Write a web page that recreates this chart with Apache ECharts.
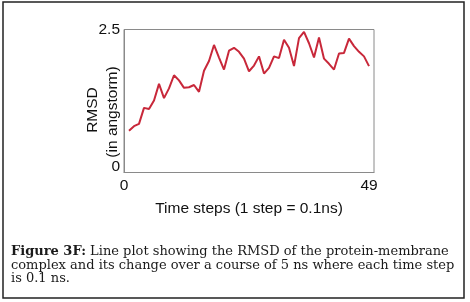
<!DOCTYPE html>
<html>
<head>
<meta charset="utf-8">
<script src="https://cdn.jsdelivr.net/npm/echarts@6/dist/echarts.min.js"></script>
<style>
  html, body { margin: 0; padding: 0; background: #fff; }
  #chart { width: 470px; height: 302px; }
</style>
</head>
<body>
<div id="chart"></div>
<script>
// time steps 1..49
var steps = [];
for (var s = 1; s <= 49; s++) steps.push(s);
// RMSD values (angstrom)
var rmsd = [
  0.73, 0.81, 0.85, 1.13, 1.11, 1.26, 1.55, 1.30, 1.47, 1.70,
  1.61, 1.48, 1.49, 1.53, 1.41, 1.78, 1.95, 2.23, 2.01, 1.80,
  2.13, 2.18, 2.11, 1.99, 1.77, 1.87, 2.03, 1.73, 1.83, 2.03,
  2.00, 2.32, 2.18, 1.86, 2.35, 2.46, 2.26, 2.01, 2.36, 1.99,
  1.90, 1.80, 2.08, 2.09, 2.34, 2.21, 2.11, 2.03, 1.86
];
var xTicks = [0, 49];
var yTicks = [0, 2.5];

var caption = '{b|Figure 3F:} Line plot showing the RMSD of the protein-membrane\n' +
  'complex and its change over a course of 5 ns where each time step\n' +
  'is 0.1 ns.';

var chart = echarts.init(document.getElementById('chart'));
var option = {
  animation: false,
  grid: {
    left: 124, right: 96, top: 29.5, bottom: 129.5,
    show: true, borderColor: '#8a8a8a', borderWidth: 1
  },
  xAxis: {
    type: 'value',
    min: 0, max: 50,
    name: 'Time steps (1 step = 0.1ns)',
    nameLocation: 'middle',
    nameGap: 28,
    nameTextStyle: { fontFamily: 'Liberation Sans', fontSize: 15.5, color: '#111' },
    splitLine: { show: false },
    axisTick: { show: false },
    axisLine: { show: true, lineStyle: { color: '#8a8a8a', width: 1 } },
    axisLabel: {
      customValues: xTicks,
      margin: 5,
      fontFamily: 'Liberation Sans', fontSize: 15.5, color: '#111'
    }
  },
  yAxis: {
    type: 'value',
    min: 0, max: 2.5, interval: 2.5,
    splitLine: { show: false },
    axisTick: { show: false },
    axisLine: { show: true, lineStyle: { color: '#8a8a8a', width: 1 } },
    axisLabel: {
      customValues: yTicks,
      margin: 4,
      fontFamily: 'Liberation Sans', fontSize: 15.5, color: '#111',
      formatter: function (v) { return v === 0 ? '{z|0}' : String(v); },
      rich: { z: { fontFamily: 'Liberation Sans', fontSize: 15.5, color: '#111', padding: [0, 0, 12, 0] } }
    }
  },
  series: [{
    type: 'line',
    data: steps.map(function (x, i) { return [x, rmsd[i]]; }),
    showSymbol: false,
    lineStyle: { color: '#c8283a', width: 2 }
  }],
  graphic: [
    {
      type: 'rect', silent: true,
      shape: { x: 3, y: 2, width: 461, height: 296 },
      style: { fill: 'none', stroke: '#222', lineWidth: 1.5 }
    },
    {
      type: 'text', x: 93, y: 110, rotation: Math.PI / 2,
      style: { text: 'RMSD', fontFamily: 'Liberation Sans', fontSize: 15.5, fill: '#111',
               align: 'center', verticalAlign: 'middle' }
    },
    {
      type: 'text', x: 113, y: 112, rotation: Math.PI / 2,
      style: { text: '(in angstorm)', fontFamily: 'Liberation Sans', fontSize: 15.5, fill: '#111',
               align: 'center', verticalAlign: 'middle' }
    },
    {
      type: 'text', left: 11, top: 245,
      style: {
        text: caption,
        fontFamily: 'DejaVu Serif', fontSize: 13, lineHeight: 13.5, fill: '#1a1a1a',
        rich: { b: { fontFamily: 'DejaVu Serif', fontSize: 13, fontWeight: 'bold', lineHeight: 13.5, fill: '#1a1a1a' } }
      }
    }
  ]
};
chart.setOption(option);
</script>
</body>
</html>
